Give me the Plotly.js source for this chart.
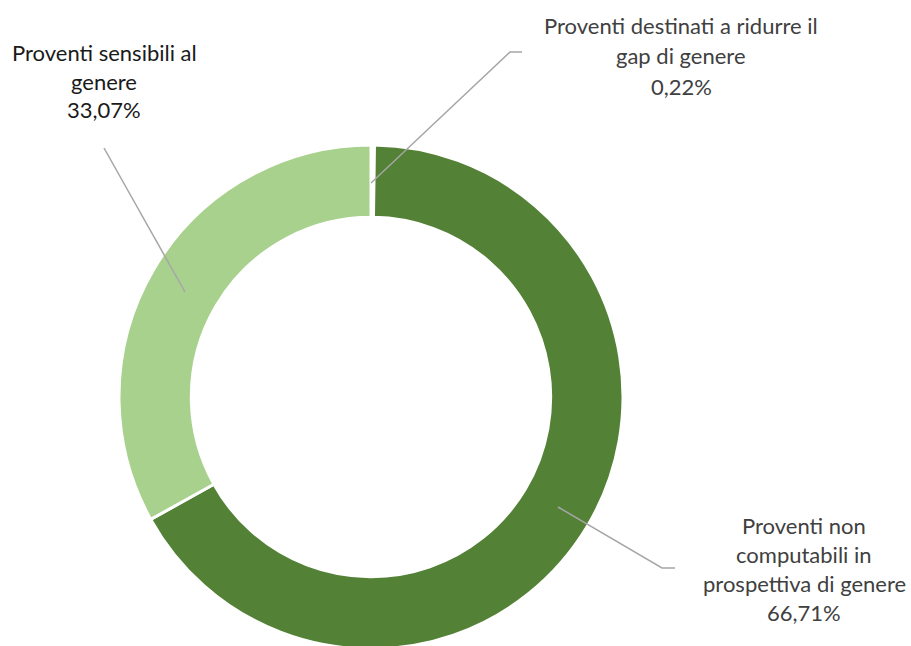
<!DOCTYPE html>
<html>
<head>
<meta charset="utf-8">
<script src="https://cdn.plot.ly/plotly-3.0.1.min.js"></script>
<style>
html,body{margin:0;padding:0;overflow:hidden;background:#fff;}
#chart{width:911px;height:652px;}
</style>
</head>
<body>
<div id="chart"></div>
<script>
// Data
const categories = [
  "Proventi destinati a ridurre il gap di genere",
  "Proventi non computabili in prospettiva di genere",
  "Proventi sensibili al genere"
];
const values = [0.22, 66.71, 33.07];
const percentLabels = ["0,22%", "66,71%", "33,07%"];
const labelLines = [
  ["Proventi destinati a ridurre il", "gap di genere"],
  ["Proventi non", "computabili in", "prospettiva di genere"],
  ["Proventi sensibili al", "genere"]
];
const sliceColors = ["#FFFFFF", "#538135", "#A9D18E"];
const textColors = ["#404040", "#404040", "#1a1a1a"];

// Layout helpers (pixel -> paper)
const W = 911, H = 652;
const px = x => x / W;
const py = y => 1 - y / H;

// label block positions: center x, first line y, line step
const labelPos = [
  {x: 681, y: 26, step: 30},
  {x: 804, y: 525, step: 29.3},
  {x: 104, y: 53, step: 28}
];
const leaders = [
  [[371,183],[510,52],[522,52]],
  [[558,507],[662,568],[675,568]],
  [[185,292],[104,148]]
];

const annotations = [];
labelLines.forEach((lines, i) => {
  const all = lines.concat([percentLabels[i]]);
  all.forEach((t, j) => {
    annotations.push({
      text: t, xref: 'paper', yref: 'paper',
      x: px(labelPos[i].x), y: py(labelPos[i].y + j * labelPos[i].step),
      xanchor: 'center', yanchor: 'middle', showarrow: false,
      font: {family: 'Lato, "Noto Sans", sans-serif', size: 22, color: textColors[i]}
    });
  });
});

const shapes = leaders.map(pts => ({
  type: 'path', xref: 'paper', yref: 'paper',
  path: pts.map((p, k) => (k ? 'L' : 'M') + px(p[0]) + ',' + py(p[1])).join(' '),
  line: {color: '#A6A6A6', width: 1.5}
}));

const trace = {
  type: 'pie',
  labels: categories,
  values: values,
  sort: false,
  direction: 'clockwise',
  rotation: 0,
  hole: 0.713,
  textinfo: 'none',
  hoverinfo: 'none',
  marker: {colors: sliceColors, line: {color: '#FFFFFF', width: 3}},
  domain: {x: [119 / W, 623 / W], y: [3 / H, 507 / H]},
  showlegend: false
};

Plotly.newPlot('chart', [trace], {
  width: W, height: H,
  margin: {l: 0, r: 0, t: 0, b: 0},
  paper_bgcolor: '#FFFFFF',
  showlegend: false,
  annotations: annotations,
  shapes: shapes
}, {staticPlot: true});
</script>
</body>
</html>
